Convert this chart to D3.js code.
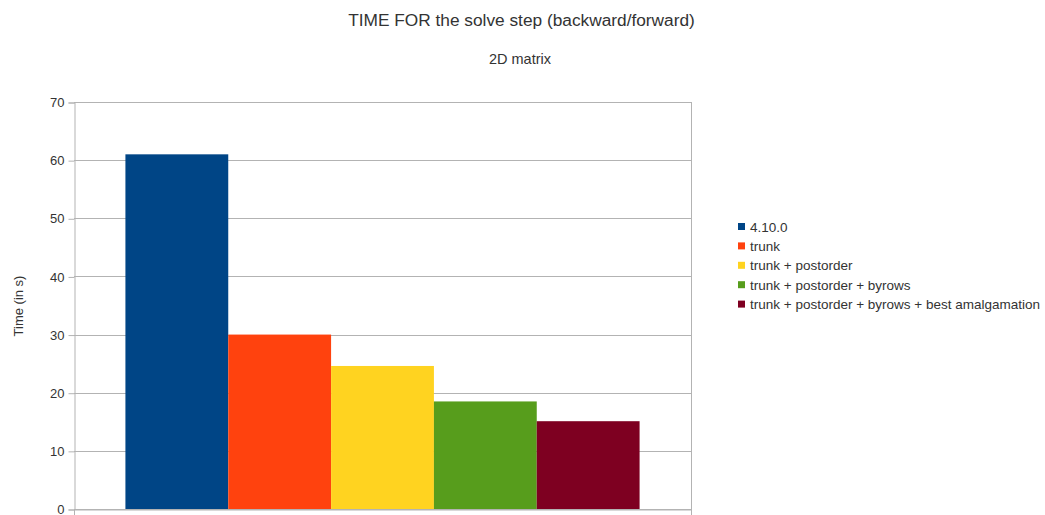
<!DOCTYPE html>
<html>
<head>
<meta charset="utf-8">
<script src="https://cdn.jsdelivr.net/npm/d3@7"></script>
<style>
  body { margin: 0; background: #fff; }
  svg { font-family: "Liberation Sans", Arial, sans-serif; }
</style>
</head>
<body>
<div id="container"></div>
<script>
// data
const categories = ["2D matrix"];
const seriesNames = ["4.10.0", "trunk", "trunk + postorder", "trunk + postorder + byrows", "trunk + postorder + byrows + best amalgamation"];
const seriesValues = [61, 30, 24.6, 18.5, 15.1];
const seriesColors = ["#004586", "#ff420e", "#ffd320", "#579d1c", "#7e0021"];
const yTicks = [0, 10, 20, 30, 40, 50, 60, 70];

const w = 1045, h = 515;
const plotLeft = 74, plotRight = 691, plotTop = 102, plotBottom = 509;

const svg = d3.select("#container").append("svg")
  .attr("width", w)
  .attr("height", h);

// scales
const yScale = d3.scaleLinear().domain([0, 70]).range([plotBottom, plotTop]);
const x0 = d3.scaleBand().domain(categories).range([plotLeft, plotRight]).paddingInner(0).paddingOuter(0.1);
const x1 = d3.scaleBand().domain(seriesNames).range([0, x0.bandwidth()]);

// gridlines
svg.append("g")
  .selectAll("line")
  .data(yTicks)
  .enter().append("line")
  .attr("x1", plotLeft)
  .attr("x2", plotRight)
  .attr("y1", d => Math.round(yScale(d)) + 0.5)
  .attr("y2", d => Math.round(yScale(d)) + 0.5)
  .attr("stroke", "#b3b3b3");

// bars
const rows = seriesNames.map((s, i) => ({ cat: categories[0], name: s, value: seriesValues[i], color: seriesColors[i] }));
svg.append("g")
  .selectAll("rect")
  .data(rows)
  .enter().append("rect")
  .attr("x", d => x0(d.cat) + x1(d.name))
  .attr("y", d => yScale(d.value))
  .attr("width", x1.bandwidth())
  .attr("height", d => plotBottom - yScale(d.value))
  .style("fill", d => d.color);

// axes
const yAxis = d3.axisLeft(yScale).tickValues(yTicks).tickSize(6).tickPadding(4);
const gy = svg.append("g")
  .attr("transform", "translate(" + (plotLeft + 0.5) + ",0.5)")
  .call(yAxis);
gy.select(".domain").attr("stroke", "#b3b3b3");
gy.selectAll(".tick line").attr("stroke", "#b3b3b3");
gy.selectAll(".tick text").style("font-size", "13px").attr("fill", "#333");

const xAxis = d3.axisBottom(x0).tickValues([]).tickSizeOuter(6);
const gx = svg.append("g")
  .attr("transform", "translate(0," + (plotBottom + 0.5) + ")")
  .call(xAxis);
gx.select(".domain").attr("stroke", "#b3b3b3");

// right border
svg.append("line")
  .attr("x1", plotRight + 0.5).attr("x2", plotRight + 0.5)
  .attr("y1", plotTop).attr("y2", h)
  .attr("stroke", "#b3b3b3");

// titles
svg.append("text")
  .attr("x", 521.5)
  .attr("y", 26)
  .attr("text-anchor", "middle")
  .attr("fill", "#333")
  .style("font-size", "17.3px")
  .text("TIME FOR the solve step (backward/forward)");

svg.append("text")
  .attr("x", 520)
  .attr("y", 64)
  .attr("text-anchor", "middle")
  .attr("fill", "#333")
  .style("font-size", "14.5px")
  .text("2D matrix");

svg.append("text")
  .attr("transform", "translate(23," + 306 + ") rotate(-90)")
  .attr("text-anchor", "middle")
  .attr("fill", "#333")
  .style("font-size", "13px")
  .text("Time (in s)");

// legend
const legend = svg.append("g").attr("transform", "translate(738,223)");
const items = legend.selectAll("g")
  .data(rows)
  .enter().append("g")
  .attr("transform", (d, i) => "translate(0," + (i * 19.4) + ")");
items.append("rect")
  .attr("width", 7).attr("height", 7)
  .style("fill", d => d.color);
items.append("text")
  .attr("x", 12)
  .attr("y", 8.5)
  .attr("fill", "#333")
  .style("font-size", "13.5px")
  .text(d => d.name);
</script>
</body>
</html>
